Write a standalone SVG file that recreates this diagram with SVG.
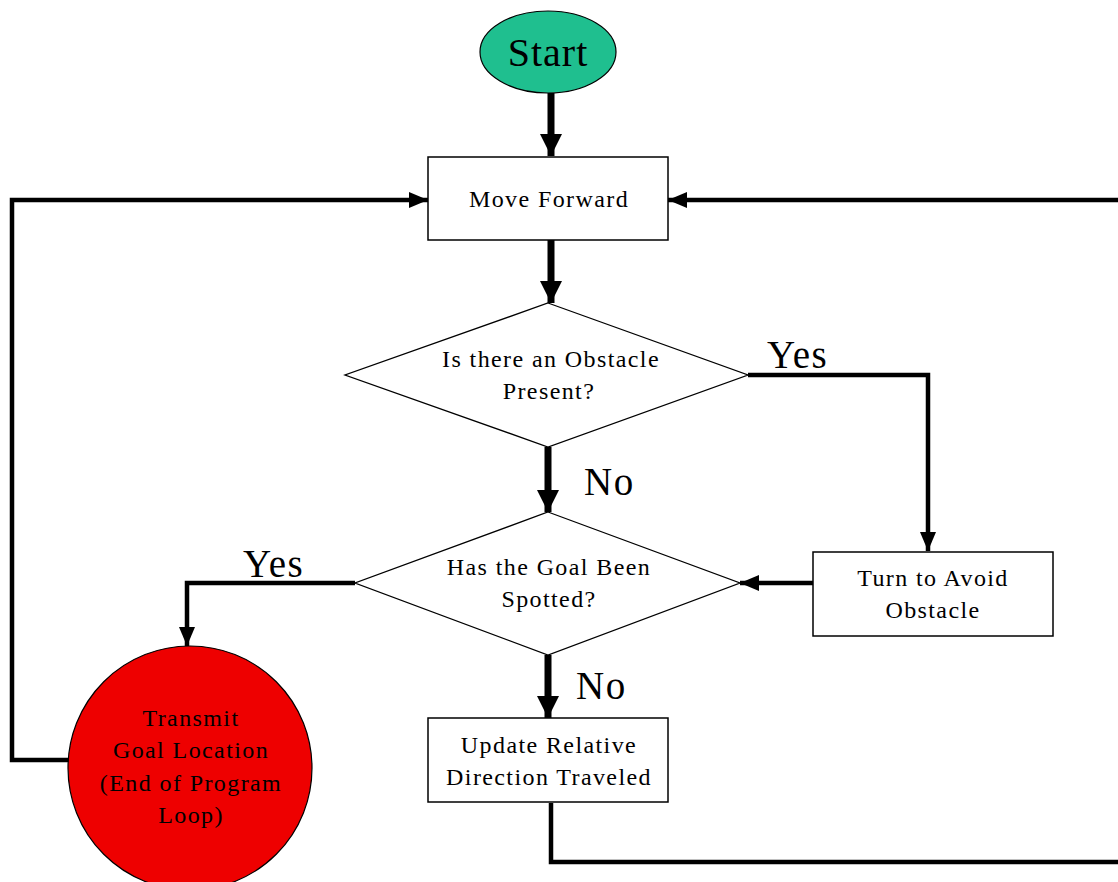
<svg xmlns="http://www.w3.org/2000/svg" width="1118" height="882" viewBox="0 0 1118 882">
<defs>
<marker id="ah" markerUnits="userSpaceOnUse" markerWidth="24" markerHeight="24" viewBox="0 0 24 24" refX="22" refY="12" orient="auto">
<path d="M0,1 L22,12 L0,23 Z" fill="#000"/>
</marker>
<marker id="ahs" markerUnits="userSpaceOnUse" markerWidth="20" markerHeight="20" viewBox="0 0 20 20" refX="19" refY="10" orient="auto">
<path d="M0,2 L19,10 L0,18 Z" fill="#000"/>
</marker>
</defs>
<style>
.box{fill:#fff;stroke:#000;stroke-width:1.5}
.dia{fill:#fff;stroke:#000;stroke-width:1.3}
.t{font-family:"Liberation Serif",serif;font-size:24px;letter-spacing:1.4px;fill:#000;text-anchor:middle}
.lbl{font-family:"Liberation Serif",serif;font-size:39px;letter-spacing:1.5px;fill:#000}
.thick{fill:none;stroke:#000;stroke-width:7}
.med{fill:none;stroke:#000;stroke-width:4.5}
</style>
<rect width="1118" height="882" fill="#fff"/>
<g id="connectors">
<path class="thick" d="M551,93 V156" marker-end="url(#ah)"/>
<path class="thick" d="M551,240 V303" marker-end="url(#ah)"/>
<path class="thick" d="M548,447 V512" marker-end="url(#ah)"/>
<path class="thick" d="M548,655 V718" marker-end="url(#ah)"/>
<path class="med" d="M748,375 H928 V551" marker-end="url(#ahs)"/>
<path class="med" d="M813,583 H740" marker-end="url(#ahs)"/>
<path class="med" d="M355,583 H187 V646" marker-end="url(#ahs)"/>
<path class="med" d="M69,760 H12 V200 H428" marker-end="url(#ahs)"/>
<path class="med" d="M551,803 V862 H1125"/>
<path class="med" d="M1125,200 H668" marker-end="url(#ahs)"/>
<text class="lbl" x="767" y="368">Yes</text>
<text class="lbl" x="584" y="495">No</text>
<text class="lbl" x="243" y="577">Yes</text>
<text class="lbl" x="576" y="699">No</text>
</g>
<g id="start">
<ellipse cx="548" cy="52" rx="68" ry="41" fill="#1fbf8f" stroke="#000" stroke-width="1.2"/>
<text class="t" x="548" y="66" style="font-size:40px;letter-spacing:1px">Start</text>
</g>
<g id="move-forward">
<rect class="box" x="428" y="157" width="240" height="83"/>
<text class="t" x="549" y="207">Move Forward</text>
</g>
<g id="obstacle">
<polygon class="dia" points="548,303 748,375 548,447 345,375"/>
<text class="t" x="551" y="367">Is there an Obstacle</text>
<text class="t" x="549" y="399">Present?</text>
</g>
<g id="turn">
<rect class="box" x="813" y="552" width="240" height="84"/>
<text class="t" x="933" y="586">Turn to Avoid</text>
<text class="t" x="933" y="618">Obstacle</text>
</g>
<g id="goal">
<polygon class="dia" points="548,512 740,583 548,655 355,583"/>
<text class="t" x="549" y="575">Has the Goal Been</text>
<text class="t" x="549" y="607">Spotted?</text>
</g>
<g id="update">
<rect class="box" x="428" y="718" width="240" height="84"/>
<text class="t" x="549" y="753">Update Relative</text>
<text class="t" x="549" y="785">Direction Traveled</text>
</g>
<g id="transmit">
<circle cx="190" cy="768" r="122" fill="#ee0000" stroke="#000" stroke-width="1.2"/>
<text class="t" x="191" y="726">Transmit</text>
<text class="t" x="191" y="758">Goal Location</text>
<text class="t" x="191" y="791">(End of Program</text>
<text class="t" x="191" y="823">Loop)</text>
</g>
</svg>
